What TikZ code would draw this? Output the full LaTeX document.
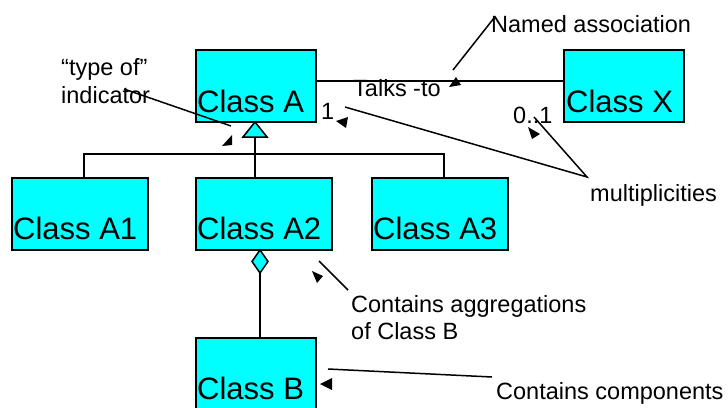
\documentclass[tikz,border=0pt]{standalone}
\usepackage{fontspec}
\setmainfont{Liberation Sans}
\usetikzlibrary{calc}
\definecolor{clscyan}{HTML}{00FFFF}
\begin{document}
\begin{tikzpicture}[x=1pt,y=-1pt,
  cls/.style={draw=black, line width=1.6pt, fill=clscyan, anchor=north west,
              inner sep=0pt, outer sep=0pt},
  clsname/.style={anchor=base west, inner sep=0pt, font=\fontsize{31}{31}\selectfont},
  note/.style={anchor=base west, inner sep=0pt, font=\fontsize{23.5}{28}\selectfont},
  wire/.style={line width=1.5pt},
  tip/.style={fill=black}]
\useasboundingbox (0,0) rectangle (728,407);
\clip (0,0) rectangle (728,407);

% class boxes
\node[cls, minimum width=120pt, minimum height=72pt] (A)  at (196,50)  {};
\node[cls, minimum width=120pt, minimum height=72pt] (X)  at (564,50)  {};
\node[cls, minimum width=136pt, minimum height=72pt] (A1) at (12,178)  {};
\node[cls, minimum width=136pt, minimum height=72pt] (A2) at (196,178) {};
\node[cls, minimum width=136pt, minimum height=72pt] (A3) at (372,178) {};
\node[cls, minimum width=120pt, minimum height=90pt] (B)  at (196,338) {};

% class names, set low and to the left in each box
\node[clsname] (An)  at (197,112) {Class A};
\node[clsname] (Xn)  at (566,112) {Class X};
\node[clsname] (A1n) at (13,239)  {Class A1};
\node[clsname] (A2n) at (197,239) {Class A2};
\node[clsname] (A3n) at (373,239) {Class A3};
\node[clsname] (Bn)  at (197,399) {Class B};

% association A -- X
\draw[wire] ([yshift=5pt]A.east) -- ([yshift=5pt]X.west);
\node[note] (talks) at (353,96) {Talks -to};
\node[note] (mA) at (321,119) {1};
\node[note] (mX) at (513,123) {0..1};

% generalisation: hollow triangle under A, tree down to A1, A2, A3
\coordinate (gtip) at ([xshift=-1pt]A.south);
\draw[wire, fill=clscyan] (gtip) -- ++(12,15) coordinate (gr) -- ++(-24,0) coordinate (gl) -- cycle;
\coordinate (gbase) at ($(gl)!0.5!(gr)$);
\draw[wire] (gbase) -- (gbase |- A2.north);
\draw[wire] ([xshift=4pt]A1.north) -- ++(0,-24) -| ([xshift=4pt]A3.north);

% aggregation: diamond under A2, line down to B
\coordinate (dtop) at ([xshift=-4pt]A2.south);
\draw[wire, fill=clscyan] (dtop) -- ++(8,11.5) -- ++(-8,11.5) coordinate (dbot) -- ++(-8,-11.5) -- cycle;
\draw[wire] (dbot) -- (dbot |- B.north);

% callout texts
\node[note] (named)  at (491,32)  {Named association};
\node[note] (type1)  at (61,75)   {“type of”};
\node[note] (type2)  at (61,103)  {indicator};
\node[note] (multi)  at (590,201) {multiplicities};
\node[note] (aggr1)  at (351,312) {Contains aggregations};
\node[note] (aggr2)  at (351,339) {of Class B};
\node[note] (comp)   at (496,399) {Contains components};

% callout lines
\coordinate (cNamedS) at (494,18);   \coordinate (cNamedE) at (453,70);
\coordinate (cTypeS)  at (124,89);   \coordinate (cTypeE)  at (231,126);
\coordinate (cMultS)  at (587,177);  \coordinate (cMultA)  at (345,107);
\coordinate (cMultX)  at (534,117);
\coordinate (cAggrS)  at (348,290);  \coordinate (cAggrE)  at (319,261);
\coordinate (cCompS)  at (492,377);  \coordinate (cCompE)  at (328,369);
\draw[wire] (cNamedS) -- (cNamedE);
\draw[wire] (cTypeS) -- (cTypeE);
\draw[wire] (cMultA) -- (cMultS) -- (cMultX);
\draw[wire] (cAggrS) -- (cAggrE);
\draw[wire] (cCompS) -- (cCompE);

% arrow heads of the callouts
\fill[tip] (449,87) -- (456,77) -- (461,85) -- cycle;
\fill[tip] (232,135) -- (222,146) -- (232,145) -- cycle;
\fill[tip] (336,121) -- (348,117) -- (346,128) -- cycle;
\fill[tip] (528,127) -- (540,134) -- (532,139) -- cycle;
\fill[tip] (312,271) -- (323,276) -- (317,283) -- cycle;
\fill[tip] (320,384) -- (332,378) -- (332,390) -- cycle;
\end{tikzpicture}
\end{document}
